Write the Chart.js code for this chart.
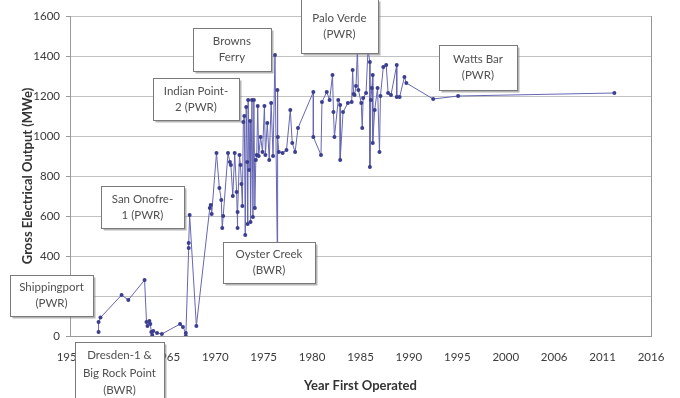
<!DOCTYPE html>
<html>
<head>
<meta charset="utf-8">
<script src="https://cdn.jsdelivr.net/npm/chart.js@4"></script>
<style>
  html, body { margin: 0; padding: 0; background: #ffffff; }
  canvas { display: block; }
</style>
</head>
<body>
<canvas id="c" width="680" height="398"></canvas>
<script>
// ---- Data ----
const years = [
  1958.5, 1958.5, 1958.7, 1960.9, 1961.6, 1963.3, 1963.5, 1963.6, 1963.8, 1963.9,
  1964.0, 1964.1, 1964.2, 1964.6, 1965.1, 1967.0, 1967.3, 1967.6, 1967.6, 1967.9,
  1967.9, 1968.0, 1968.7, 1970.1, 1970.2, 1970.3, 1970.8, 1971.1, 1971.3, 1971.4,
  1971.5, 1972.0, 1972.2, 1972.3, 1972.5, 1972.7, 1972.9, 1973.0, 1973.0, 1973.2,
  1973.3, 1973.4, 1973.5, 1973.6, 1973.7, 1973.8, 1973.9, 1974.0, 1974.05, 1974.1,
  1974.2, 1974.3, 1974.35, 1974.5, 1974.6, 1974.7, 1974.8, 1974.9, 1975.0, 1975.1,
  1975.2, 1975.4, 1975.6, 1975.8, 1975.9, 1976.1, 1976.3, 1976.5, 1976.7, 1976.9,
  1977.15, 1977.15, 1977.2, 1977.3, 1977.7, 1978.1, 1978.5, 1978.7, 1979.0, 1979.3,
  1980.9, 1980.9, 1981.7, 1981.8, 1982.3, 1982.6, 1982.9, 1983.0, 1983.1, 1983.5,
  1983.7, 1983.7, 1984.0, 1984.5, 1984.9, 1985.0, 1985.1, 1985.2, 1985.35, 1985.5,
  1985.6, 1985.9, 1986.0, 1986.1, 1986.4, 1986.6, 1986.8, 1986.8, 1986.9, 1987.0,
  1987.1, 1987.1, 1987.3, 1987.6, 1987.8, 1987.9, 1988.2, 1988.5, 1988.7, 1989.0,
  1989.6, 1989.6, 1989.9, 1990.4, 1990.6, 1993.4, 1996.0, 2012.3
];
const grossMWe = [
  20, 70, 92, 205, 180, 280, 70, 50, 75, 60,
  20, 5, 25, 15, 10, 60, 45, 15, 0, 440,
  465, 605, 50, 640, 655, 610, 915, 740, 680, 540,
  600, 915, 870, 855, 700, 915, 720, 540, 620, 905,
  855, 760, 650, 1070, 1100, 505, 1145, 870, 560, 1180,
  830, 1075, 570, 1180, 595, 1180, 640, 880, 905, 1150,
  900, 995, 920, 1150, 905, 1065, 880, 1165, 900, 1405,
  380, 1230, 995, 920, 915, 930, 1130, 965, 920, 1040,
  1220, 995, 905, 1170, 1220, 1180, 1305, 1120, 995, 1180,
  1155, 880, 1120, 1165, 1170, 1330, 1210, 1205, 1250, 1430,
  1230, 1165, 1040, 1190, 1215, 1430, 1370, 845, 1180, 1240,
  1305, 965, 1130, 1240, 920, 1200, 1345, 1355, 1215, 1205,
  1355, 1195, 1195, 1295, 1265, 1185, 1200, 1215
];
const xTickLabels = ['1955','1960','1965','1970','1975','1980','1985','1990','1995','2000','2006','2011','2016'];
const yTickStep = 200;
const calloutTexts = [
  ['Shippingport', '(PWR)'],
  ['Dresden-1 &', 'Big Rock Point', '(BWR)'],
  ['San Onofre-', '1 (PWR)'],
  ['Indian Point-', '2 (PWR)'],
  ['Browns', 'Ferry'],
  ['Palo Verde', '(PWR)'],
  ['Oyster Creek', '(BWR)'],
  ['Watts Bar', '(PWR)']
];

// ---- Layout / style config ----
const X_MIN = 1955.52, X_MAX = 2016.12;
const FONT = 'Lato, "Open Sans", sans-serif';
// callout placement: centre in data units, size in px
const calloutPlacement = [
  { cx: 1953.59, cy: 202, w: 83, h: 41 },
  { cx: 1960.68, cy: -185, w: 89, h: 62 },
  { cx: 1963.08, cy: 645, w: 83, h: 42 },
  { cx: 1968.66, cy: 1185, w: 86, h: 42 },
  { cx: 1972.41, cy: 1432, w: 78, h: 43 },
  { cx: 1983.62, cy: 1550, w: 77, h: 54 },
  { cx: 1976.27, cy: 367, w: 92, h: 41 },
  { cx: 1998.07, cy: 1342, w: 78, h: 45 }
];

const points = years.map((y, i) => ({ x: y, y: grossMWe[i] }));

const frameAndCallouts = {
  id: 'frameAndCallouts',
  afterDatasetsDraw(chart) {
    const ctx = chart.ctx;
    const a = chart.chartArea;
    ctx.save();
    ctx.strokeStyle = '#959595';
    ctx.lineWidth = 1;
    ctx.beginPath();
    ctx.moveTo(Math.round(a.right) + 0.5, a.top);
    ctx.lineTo(Math.round(a.right) + 0.5, a.bottom);
    ctx.stroke();
    ctx.restore();
  },
  afterDraw(chart) {
    const ctx = chart.ctx;
    const xs = chart.scales.x, ys = chart.scales.y;
    ctx.save();
    calloutTexts.forEach((lines, i) => {
      const p = calloutPlacement[i];
      const cx = xs.getPixelForValue(p.cx);
      const cy = ys.getPixelForValue(p.cy);
      const l = Math.round(cx - p.w / 2) + 0.5;
      const t = Math.round(cy - p.h / 2) + 0.5;
      ctx.fillStyle = 'rgba(120,120,120,0.55)';
      ctx.fillRect(l + 2, t + 2, p.w, p.h);
      ctx.fillStyle = '#ffffff';
      ctx.fillRect(l, t, p.w, p.h);
      ctx.strokeStyle = '#7a7a7a';
      ctx.lineWidth = 1;
      ctx.strokeRect(l, t, p.w, p.h);
      ctx.fillStyle = '#505050';
      ctx.font = '11.5px ' + FONT;
      ctx.textAlign = 'center';
      ctx.textBaseline = 'middle';
      const lh = lines.length === 3 ? 17.5 : 16;
      const start = cy - (lines.length - 1) * lh / 2;
      lines.forEach((s, k) => ctx.fillText(s, cx, start + k * lh));
    });
    ctx.restore();
  }
};

new Chart(document.getElementById('c'), {
  type: 'line',
  data: {
    datasets: [{
      data: points,
      borderColor: '#6566b3',
      borderWidth: 1,
      backgroundColor: '#3c3e8e',
      pointBackgroundColor: '#3c3e8e',
      pointBorderColor: '#3c3e8e',
      pointRadius: 2,
      pointBorderWidth: 0,
      tension: 0,
      fill: false
    }]
  },
  options: {
    responsive: false,
    animation: false,
    devicePixelRatio: 1,
    layout: { padding: { top: 16, right: 29, left: 0, bottom: 0 } },
    plugins: { legend: { display: false }, tooltip: { enabled: false } },
    scales: {
      x: {
        type: 'linear',
        min: X_MIN,
        max: X_MAX,
        afterBuildTicks(scale) {
          const step = (X_MAX - X_MIN) / (xTickLabels.length - 1);
          scale.ticks = xTickLabels.map((_, i) => ({ value: X_MIN + i * step }));
        },
        afterFit(scale) { scale.height = 62; },
        ticks: {
          autoSkip: false,
          maxRotation: 0,
          padding: 10,
          color: '#3a3a3a',
          font: { family: FONT, size: 11.5 },
          callback: (v, i) => xTickLabels[i]
        },
        grid: {
          display: false,
          tickLength: 4
        },
        border: { display: true, color: '#9a9a9a' },
        title: {
          display: true,
          text: 'Year First Operated',
          color: '#333333',
          font: { family: FONT, size: 13, weight: 'bold' },
          padding: { top: 0, bottom: 4 }
        }
      },
      y: {
        min: 0,
        max: 1600,
        afterFit(scale) { scale.width = 70; },
        ticks: {
          stepSize: yTickStep,
          padding: 6,
          color: '#3a3a3a',
          font: { family: FONT, size: 11.5 },
          callback: v => String(v)
        },
        grid: {
          color: '#c2c2c2',
          tickLength: 4,
          tickColor: '#9a9a9a'
        },
        border: { display: true, color: '#9a9a9a' },
        title: {
          display: true,
          text: 'Gross Electrical Output (MWe)',
          color: '#333333',
          font: { family: FONT, size: 13, weight: 'bold' },
          padding: { top: 20, bottom: 0 }
        }
      }
    }
  },
  plugins: [frameAndCallouts]
});
</script>
</body>
</html>
